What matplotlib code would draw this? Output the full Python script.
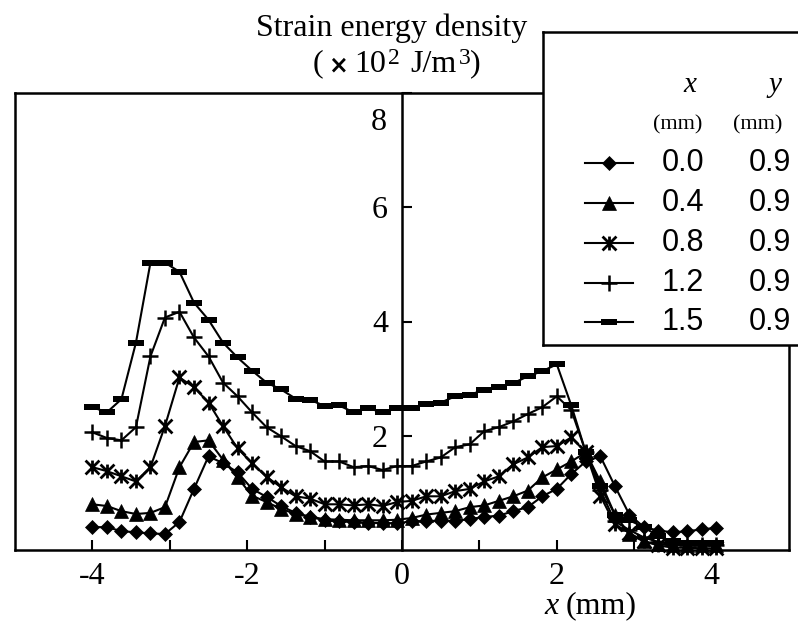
import matplotlib
matplotlib.use('Agg')
import matplotlib.pyplot as plt
from matplotlib.path import Path

# position along the line (mm)
x_mm = [-4.0, -3.8125, -3.625, -3.4375, -3.25, -3.0625, -2.875, -2.6875, -2.5, -2.3125,
        -2.125, -1.9375, -1.75, -1.5625, -1.375, -1.1875, -1.0, -0.8125, -0.625, -0.4375,
        -0.25, -0.0625, 0.125, 0.3125, 0.5, 0.6875, 0.875, 1.0625, 1.25, 1.4375,
        1.625, 1.8125, 2.0, 2.1875, 2.375, 2.5625, 2.75, 2.9375, 3.125, 3.3125,
        3.5, 3.6875, 3.875, 4.0625]

# strain energy density (x 10^2 J/m^3), one list per probe position x
sed_x00 = [0.40, 0.40, 0.33, 0.31, 0.29, 0.28, 0.49, 1.07, 1.64, 1.52,
           1.36, 1.07, 0.93, 0.77, 0.65, 0.58, 0.52, 0.50, 0.49, 0.48,
           0.47, 0.47, 0.50, 0.51, 0.51, 0.51, 0.54, 0.58, 0.60, 0.68,
           0.75, 0.94, 1.07, 1.33, 1.55, 1.64, 1.12, 0.62, 0.40, 0.34,
           0.31, 0.33, 0.36, 0.39]
sed_x04 = [0.80, 0.77, 0.68, 0.63, 0.65, 0.75, 1.45, 1.89, 1.92, 1.58,
           1.27, 0.95, 0.84, 0.72, 0.63, 0.58, 0.54, 0.53, 0.52, 0.52,
           0.52, 0.53, 0.56, 0.62, 0.65, 0.68, 0.75, 0.78, 0.86, 0.94,
           1.04, 1.27, 1.41, 1.55, 1.71, 1.20, 0.62, 0.28, 0.15, 0.10,
           0.08, 0.08, 0.08, 0.08]
sed_x08 = [1.45, 1.38, 1.29, 1.20, 1.45, 2.17, 3.02, 2.85, 2.58, 2.17,
           1.78, 1.52, 1.28, 1.10, 0.94, 0.90, 0.80, 0.80, 0.78, 0.80,
           0.77, 0.84, 0.86, 0.94, 0.94, 1.03, 1.07, 1.20, 1.29, 1.50,
           1.62, 1.80, 1.82, 1.97, 1.71, 0.95, 0.45, 0.30, 0.15, 0.08,
           0.04, 0.04, 0.03, 0.03]
sed_x12 = [2.06, 1.96, 1.92, 2.15, 3.39, 4.07, 4.17, 3.72, 3.39, 2.93,
           2.69, 2.41, 2.15, 1.99, 1.82, 1.73, 1.55, 1.55, 1.45, 1.47,
           1.40, 1.47, 1.47, 1.55, 1.62, 1.80, 1.85, 2.08, 2.15, 2.25,
           2.38, 2.50, 2.69, 2.45, 1.71, 1.05, 0.50, 0.35, 0.22, 0.14,
           0.10, 0.08, 0.08, 0.08]
sed_x15 = [2.50, 2.41, 2.64, 3.63, 5.03, 5.03, 4.87, 4.33, 4.03, 3.63,
           3.37, 3.14, 2.93, 2.81, 2.65, 2.63, 2.52, 2.53, 2.41, 2.48,
           2.41, 2.48, 2.48, 2.56, 2.58, 2.69, 2.72, 2.80, 2.86, 2.92,
           3.04, 3.13, 3.25, 2.53, 1.71, 1.12, 0.62, 0.52, 0.40, 0.24,
           0.15, 0.12, 0.12, 0.12]

probe_x = ['0.0', '0.4', '0.8', '1.2', '1.5']
probe_y = ['0.9', '0.9', '0.9', '0.9', '0.9']
series = [sed_x00, sed_x04, sed_x08, sed_x12, sed_x15]

asterisk = Path([(0, -1), (0, 1), (-1, -1), (1, 1), (-1, 1), (1, -1)],
                [Path.MOVETO, Path.LINETO] * 3)
bar = Path([(-1, -0.4), (1, -0.4), (1, 0.4), (-1, 0.4), (-1, -0.4)],
           [Path.MOVETO, Path.LINETO, Path.LINETO, Path.LINETO, Path.CLOSEPOLY])
styles = [
    dict(marker='D', ms=7.5, mfc='k', mec='k', mew=0.5),
    dict(marker='^', ms=10.5, mfc='k', mec='k', mew=0.5),
    dict(marker=asterisk, ms=10, mfc='none', mec='k', mew=2.0),
    dict(marker='+', ms=12, mec='k', mew=1.8),
    dict(marker=bar, ms=12, mfc='k', mec='k', mew=0),
]

serif = 'Liberation Serif'
sans = 'Liberation Sans'
W, H = 798, 621

fig = plt.figure(figsize=(W / 100, H / 100), dpi=100)
ax = fig.add_axes([15 / W, 1 - 550 / H, 774 / W, 457 / H])

for vals, st in zip(series, styles):
    ax.plot(x_mm, vals, color='k', lw=1.5, clip_on=False, **st)

ax.set_xlim(-5, 5)
ax.set_ylim(0, 8)
ax.spines['left'].set_position(('data', 0))
for s in ax.spines.values():
    s.set_linewidth(1.8)
ax.axvline(-5, color='k', lw=1.8, clip_on=False)

ax.set_xticks([-4, -2, 0, 2, 4])
ax.set_xticklabels(['-4', '-2', '0', '2', '4'], fontfamily=serif, fontsize=23)
ax.set_xticks([-3, -1, 1, 3], minor=True)
ax.tick_params(axis='x', which='both', direction='in', length=7, width=1.5, pad=9)
ax.set_yticks([2, 4, 6, 8])
ax.set_yticklabels(['2', '4', '6', ''], fontfamily=serif, fontsize=23)
ax.tick_params(axis='y', which='both', direction='in', length=7, width=1.5, pad=10)
ax.annotate('8', xy=(0, 8), xytext=(-11, -21), textcoords='offset points',
            ha='right', va='center', fontfamily=serif, fontsize=23)


def ftext(px, py, s, **kw):
    fig.text(px / W, 1 - py / H, s, **kw)


# axis titles
ftext(392, 28, 'Strain energy density', ha='center', va='center',
      fontfamily=serif, fontsize=23)
ftext(313, 64, '(', ha='left', va='center', fontfamily=serif, fontsize=23)
ftext(338, 66, '×', ha='center', va='center', fontfamily='DejaVu Sans',
      fontsize=17, fontweight='bold')
ftext(354, 64, '10', ha='left', va='center', fontfamily=serif, fontsize=23)
ftext(388, 58, '2', ha='left', va='center', fontfamily=serif, fontsize=17)
ftext(410, 64, 'J/m', ha='left', va='center', fontfamily=serif, fontsize=23)
ftext(459, 58, '3', ha='left', va='center', fontfamily=serif, fontsize=17)
ftext(470, 64, ')', ha='left', va='center', fontfamily=serif, fontsize=23)
ftext(544, 606, 'x', ha='left', va='center', fontfamily=serif, fontsize=23,
      fontstyle='italic')
ftext(566, 606, '(mm)', ha='left', va='center', fontfamily=serif, fontsize=23)

# legend box
lax = fig.add_axes([543 / W, 1 - 345 / H, (W - 543) / W, 313 / H], zorder=5)
lax.set_xlim(0, W - 543)
lax.set_ylim(313, 0)
lax.set_xticks([])
lax.set_yticks([])
lax.spines['right'].set_visible(False)
for s in ('left', 'top', 'bottom'):
    lax.spines[s].set_linewidth(1.8)

lax.text(147, 53, 'x', ha='center', va='center', fontfamily=serif,
         fontsize=21, fontstyle='italic')
lax.text(232, 53, 'y', ha='center', va='center', fontfamily=serif,
         fontsize=21, fontstyle='italic')
lax.text(135, 93, '(mm)', ha='center', va='center', fontfamily=serif, fontsize=16)
lax.text(215, 93, '(mm)', ha='center', va='center', fontfamily=serif, fontsize=16)

row_y = [131, 171, 211, 251, 290]
for ry, px_, py_, st in zip(row_y, probe_x, probe_y, styles):
    lax.plot([42, 90], [ry, ry], color='k', lw=1.5)
    lax.plot([66], [ry], color='k', **st)
    lax.text(140, ry, px_, ha='center', va='center', fontfamily=sans, fontsize=22)
    lax.text(227, ry, py_, ha='center', va='center', fontfamily=sans, fontsize=22)

fig.savefig('out.png', dpi=100)
